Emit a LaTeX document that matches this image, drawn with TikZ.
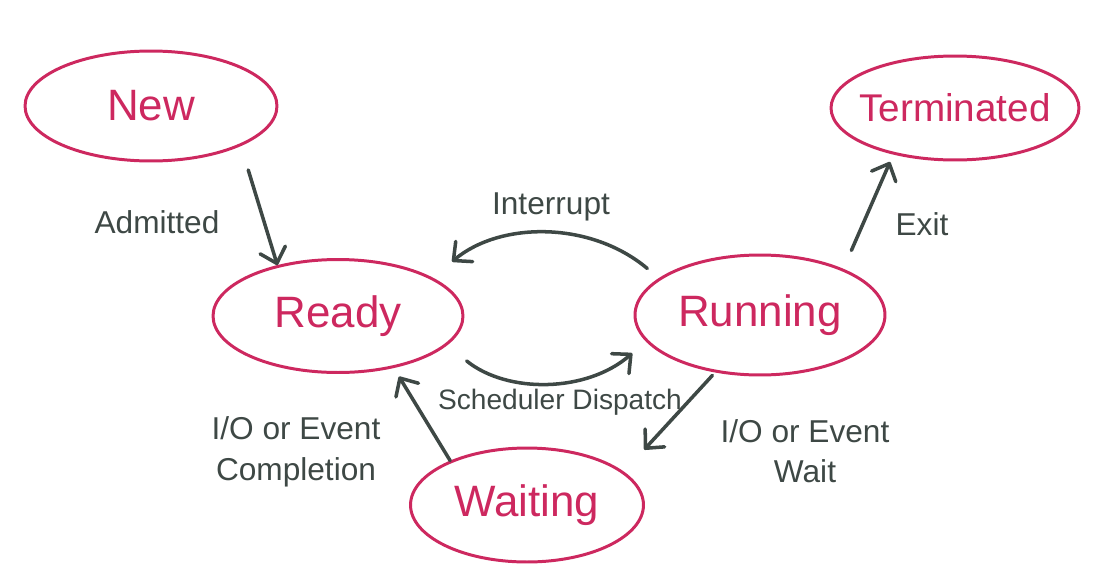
\documentclass[tikz,border=0pt]{standalone}
\usepackage{fontspec}
\setmainfont{Liberation Sans}
\usepackage{xcolor}
\usetikzlibrary{shapes.geometric,arrows.meta}

\definecolor{statepink}{RGB}{205,40,95}
\definecolor{arrowgray}{RGB}{62,72,69}

\begin{document}
\begin{tikzpicture}[x=0.02cm, y=-0.02cm,
    state/.style={ellipse, draw=statepink, line width=1.7pt, inner sep=0pt},
    statetext/.style={text=statepink, font=\fontsize{25}{30}\selectfont},
    lbl/.style={text=arrowgray, font=\fontsize{18}{23}\selectfont, align=center},
    arr/.style={-{Straight Barb[length=8pt, width=15pt, round]}, line width=2pt, draw=arrowgray, line cap=round},
]
\useasboundingbox (0,0) rectangle (1093,572);

% States
\node[state, minimum width=5.04cm, minimum height=2.2cm, label={[statetext]center:New}] (new) at (151,106) {};
\node[state, minimum width=4.96cm, minimum height=2.08cm, label={[statetext, font=\fontsize{22}{26}\selectfont]center:Terminated}] (term) at (955,108) {};
\node[state, minimum width=5.0cm, minimum height=2.26cm, label={[statetext]center:Ready}] (ready) at (338,316) {};
\node[state, minimum width=5.0cm, minimum height=2.4cm, label={[statetext]center:Running}] (run) at (760,315) {};
\node[state, minimum width=4.66cm, minimum height=2.28cm, label={[statetext]center:Waiting}] (wait) at (527,505) {};

% Labels
\node[lbl] (admitted) at (157,222) {Admitted};
\node[lbl] (interrupt) at (551,207) {Interrupt};
\node[lbl] (exit) at (922,224) {Exit};
\node[lbl, font=\fontsize{16}{19}\selectfont] (dispatch) at (560,402) {Scheduler Dispatch};
\node[lbl] (completion) at (296,452) {I/O or Event\\Completion};
\node[lbl] (iowait) at (805,451) {I/O or Event\\Wait};

% Arrows
\draw[arr, shorten <=0.5cm] (new.-24) -- (ready.140);
\draw[arr, shorten <=0.4cm, shorten >=0.16cm] (run.29) -- (term.-143);
\draw[arr, shorten <=0.3cm, shorten >=0.5cm] (run.160) to[bend right=40] (ready.22);
\draw[arr, shorten <=0.5cm, shorten >=0.36cm] (ready.-15) to[bend right=40] (run.-167);
\draw[arr, shorten <=0.08cm, shorten >=0.6cm] (run.-128) -- (wait.19);
\draw[arr, shorten >=0.2cm] (wait.150) -- (ready.-43);
\end{tikzpicture}
\end{document}
